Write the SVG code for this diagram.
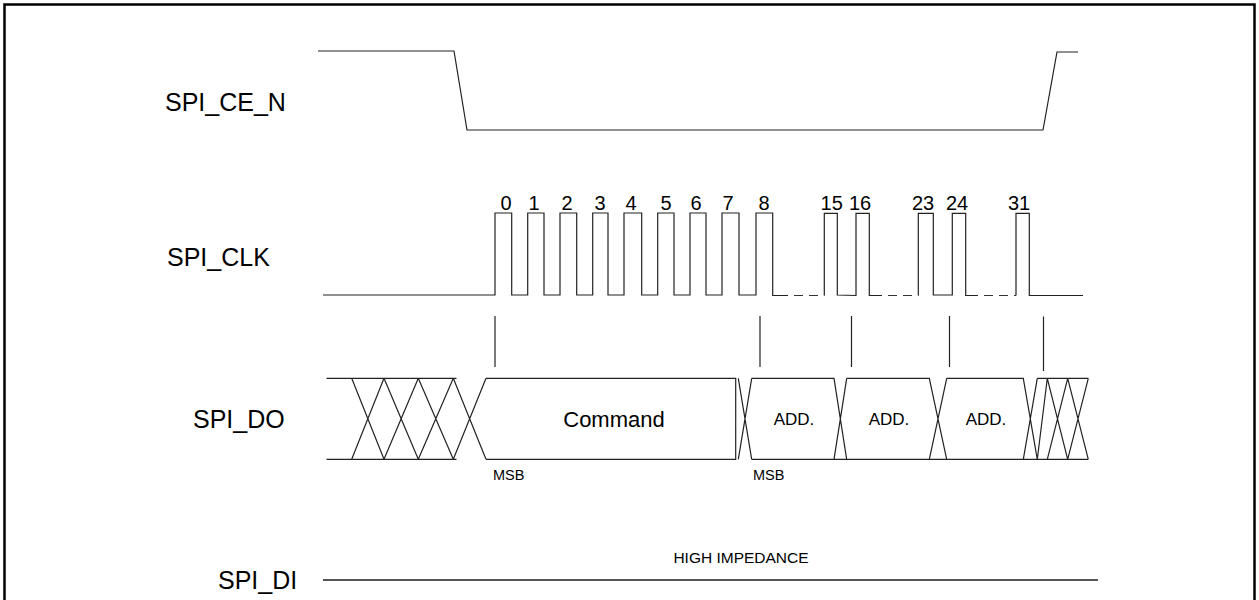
<svg xmlns="http://www.w3.org/2000/svg" width="1259" height="600" viewBox="0 0 1259 600">
<style>
.lbl{font-family:"Liberation Sans",Arial,sans-serif;font-size:25px;fill:#000}
.num{font-family:"Liberation Sans",Arial,sans-serif;font-size:20px;fill:#000;text-anchor:middle}
.sm{font-family:"Liberation Sans",Arial,sans-serif;font-size:14.5px;fill:#000}
.add{font-family:"Liberation Sans",Arial,sans-serif;font-size:17px;fill:#000;text-anchor:middle}
.w{fill:none;stroke:#222;stroke-width:1.2}
.d{fill:none;stroke:#333;stroke-width:1.2;stroke-dasharray:9 6}
</style>
<rect x="4.5" y="4.5" width="1250" height="610" fill="#fff" stroke="#000" stroke-width="2.5"/>
<g id="labels">
<text class="lbl" x="165" y="111">SPI_CE_N</text>
<text class="lbl" x="167" y="266">SPI_CLK</text>
<text class="lbl" x="193" y="428">SPI_DO</text>
<text class="lbl" x="218" y="589">SPI_DI</text>
</g>
<g id="ce">
<polyline class="w" points="318,51 454,51 467,130 1043,130 1057,52 1078,52"/>
</g>
<g id="clk">
<polyline class="w" points="323,295 495,295 495,213 511.7,213 511.7,295 527.7,295 527.7,213 544,213 544,295 560,295 560,213 576.7,213 576.7,295 592.7,295 592.7,213 608,213 608,295 624,295 624,213 641.7,213 641.7,295 657.7,295 657.7,213 674,213 674,295 690,295 690,213 706,213 706,295 722,295 722,213 739,213 739,295 756,295 756,213 772.7,213 772.7,295.5 788,295.5"/>
<line class="d" x1="794" y1="295.5" x2="824.3" y2="295.5"/>
<polyline class="w" points="824.3,295.5 824.3,213.3 837.3,213.3 837.3,295 856,295.5 856,213.3 869.3,213.3 869.3,295.5 882,295.5"/>
<line class="d" x1="888" y1="295.5" x2="918.3" y2="295.5"/>
<polyline class="w" points="918.3,295.5 918.3,213.3 933.3,213.3 933.3,295 952.3,295 952.3,213.3 965.7,213.3 965.7,295.5 978,295.5"/>
<line class="d" x1="984" y1="295.5" x2="1016" y2="295.5"/>
<polyline class="w" points="1016,295.5 1016,213.3 1029.3,213.3 1029.3,295.5 1083,295.5"/>
<text class="num" x="506" y="210">0</text>
<text class="num" x="534" y="210">1</text>
<text class="num" x="567" y="210">2</text>
<text class="num" x="600" y="210">3</text>
<text class="num" x="631" y="210">4</text>
<text class="num" x="666" y="210">5</text>
<text class="num" x="696" y="210">6</text>
<text class="num" x="728" y="210">7</text>
<text class="num" x="764" y="210">8</text>
<text class="num" x="831.7" y="210">15</text>
<text class="num" x="860" y="210">16</text>
<text class="num" x="923" y="210">23</text>
<text class="num" x="957" y="210">24</text>
<text class="num" x="1019" y="210">31</text>
</g>
<g id="connectors">
<line class="w" x1="495" y1="316" x2="495" y2="367"/>
<line class="w" x1="760" y1="316" x2="760" y2="367"/>
<line class="w" x1="851.5" y1="316" x2="851.5" y2="367"/>
<line class="w" x1="949.5" y1="316" x2="949.5" y2="367"/>
<line class="w" x1="1043.5" y1="316.5" x2="1043.5" y2="371"/>
</g>
<g id="do">
<path class="w" d="M326.5,378.3H456.5M326.5,459.3H456.5
M351.7,378.3L384,459.3M351.7,459.3L384,378.3
M384,378.3L418.3,459.3M384,459.3L418.3,378.3
M418.3,378.3L453.3,459.3M418.3,459.3L453.3,378.3
M453.3,378.3L486,459.3M453.3,459.3L486,378.3
M486,378.3H735.7V459.3H486
M738.3,378.3L751.7,459.3M738.3,459.3L751.7,378.3
M751.7,378.3H834L846.7,459.3H751.7M834,459.3L846.7,378.3
M846.7,378.3H929.3L946.7,459.3H846.7M929.3,459.3L946.7,378.3
M946.7,378.3H1023.3L1037.3,459.3H946.7M1023.3,459.3L1037.3,378.3
M1037.3,378.3H1088.3M1037.3,459.3H1088.3
M1037.3,459.3L1047.3,378.3
M1047.3,378.3L1067.7,459.3M1047.3,459.3L1067.7,378.3
M1067.7,378.3L1088.3,459.3M1067.7,459.3L1088.3,378.3"/>
<text x="614" y="427" style="font-family:'Liberation Sans',Arial,sans-serif;font-size:22px;text-anchor:middle">Command</text>
<text class="add" x="794" y="425">ADD.</text>
<text class="add" x="889" y="425">ADD.</text>
<text class="add" x="986" y="425">ADD.</text>
<text class="sm" x="493" y="480">MSB</text>
<text class="sm" x="753" y="480">MSB</text>
</g>
<g id="di">
<line x1="323" y1="580" x2="1098" y2="580" stroke="#555" stroke-width="2"/>
<text x="741" y="563" style="font-family:'Liberation Sans',Arial,sans-serif;font-size:15.5px;text-anchor:middle">HIGH IMPEDANCE</text>
</g>
</svg>
